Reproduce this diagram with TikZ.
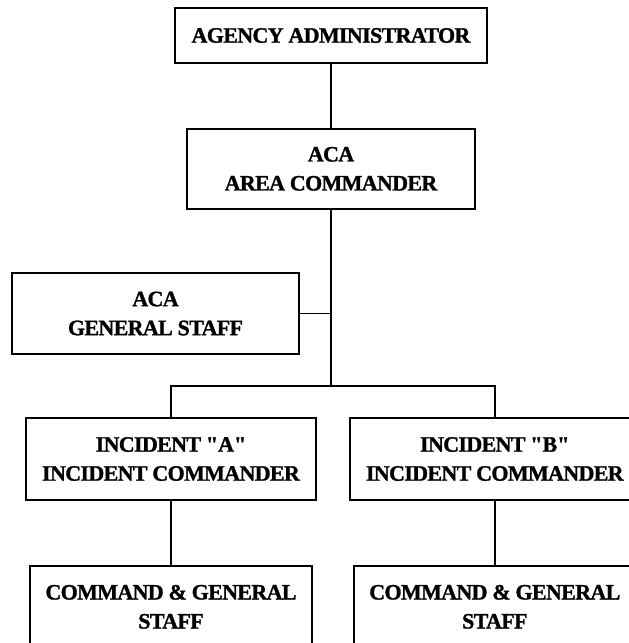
\documentclass[tikz,border=0pt]{standalone}
\usepackage{fontspec}
\setmainfont{Liberation Serif}[LetterSpace=-3, BoldFeatures={FakeBold=1.2}]
\usepackage{tikz}
\usetikzlibrary{positioning}

\begin{document}
\begin{tikzpicture}[x=1pt, y=-1pt, thick]

        % Styles
        \tikzstyle{box} = [draw, rectangle, line width=1.8pt, align=center, inner sep=0pt, font=\fontsize{22}{29}\selectfont\bfseries]
        \tikzstyle{link} = [line width=1.8pt]

        \useasboundingbox (0,0) rectangle (629,643);

        % Nodes
        \node [box, minimum width=312pt, minimum height=55pt] (admin) at (331,35.5) {AGENCY ADMINISTRATOR};
        \node [box, minimum width=288pt, minimum height=80pt, below=64pt of admin] (aca) {ACA\\AREA COMMANDER};
        \node [box, minimum width=287pt, minimum height=81pt] (gstaff) at (155.5,313.5) {ACA\\GENERAL STAFF};
        \node [box, minimum width=290pt, minimum height=82pt] (incA) at (171,459) {INCIDENT \textquotedbl A\textquotedbl\\INCIDENT COMMANDER};
        \node [box, minimum width=290pt, minimum height=82pt, right=32pt of incA] (incB) {INCIDENT \textquotedbl B\textquotedbl\\INCIDENT COMMANDER};
        \node [box, minimum width=282pt, minimum height=82pt, below=64pt of incA] (cmdA) {COMMAND \& GENERAL\\STAFF};
        \node [box, minimum width=282pt, minimum height=82pt, below=64pt of incB] (cmdB) {COMMAND \& GENERAL\\STAFF};
        \coordinate (bar) at (aca.south |- 0,386);

        % Lines
        \draw[link] (admin) -- (aca);
        \draw[link] (aca) -- (bar);
        \draw[link] (gstaff.east) -- (gstaff.east -| aca.south);
        \draw[link] (incA.north) |- (bar) -| (incB.north);
        \draw[link] (incA) -- (cmdA);
        \draw[link] (incB) -- (cmdB);

\end{tikzpicture}
\end{document}
